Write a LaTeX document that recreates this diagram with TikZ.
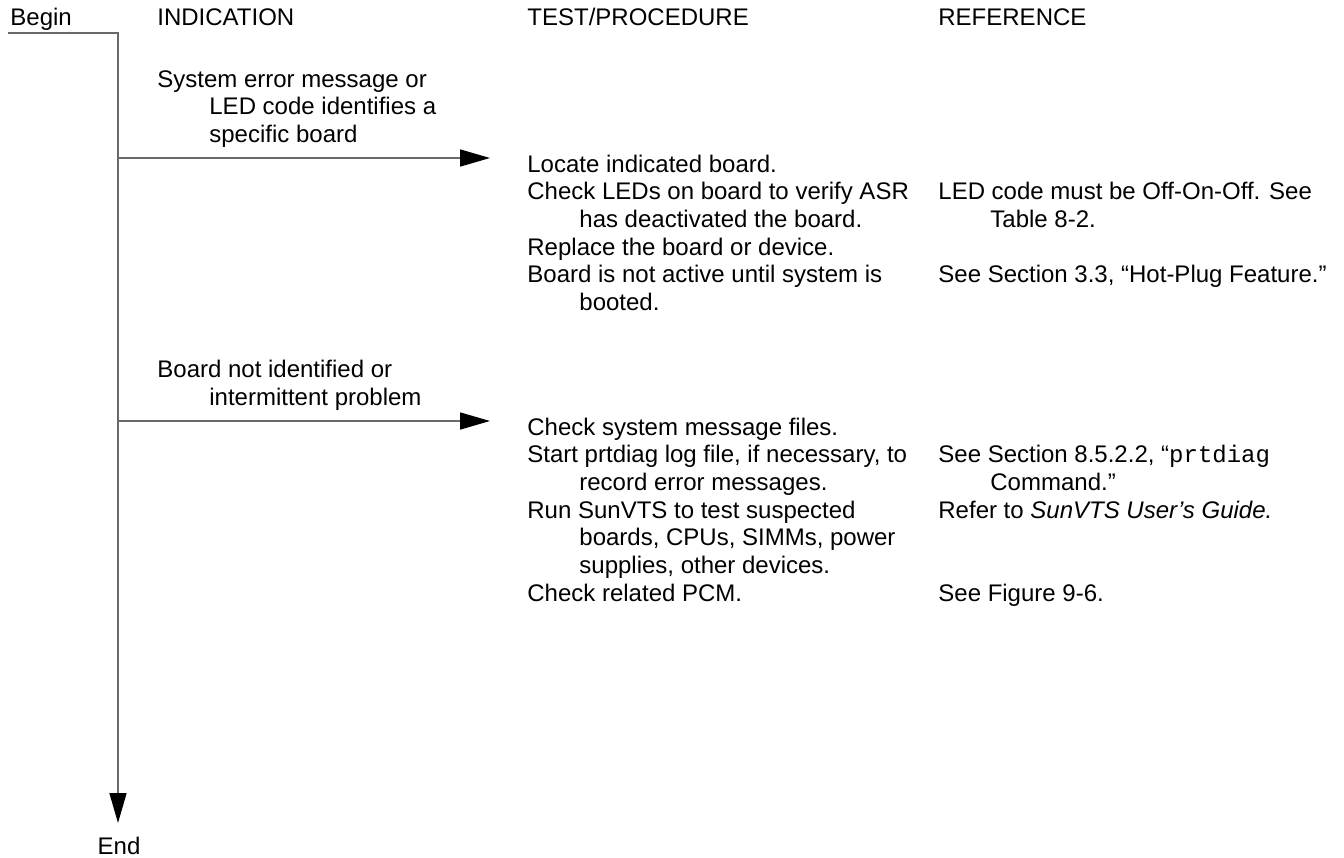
\documentclass[tikz,border=0pt]{standalone}
\usepackage{fontspec}
\setmainfont{Liberation Sans}
\setmonofont{Liberation Mono}
\usetikzlibrary{arrows.meta}

\definecolor{linegray}{RGB}{105,105,105}
\newcommand{\indnt}{\hspace*{26pt}}

\begin{document}
\begin{tikzpicture} [x=0.5pt, y=-0.5pt,
    flow/.style={draw=linegray, line width=0.8pt},
    arr/.style={-{Triangle[length=15pt, width=8.5pt, color=black]}},
    txt/.style={anchor=base west, inner sep=0pt, align=left,
                font=\fontsize{12}{13.85}\selectfont}]

\useasboundingbox (0,0) rectangle (1344,857);

% column heads
\node [txt] (begin) at (10,25) {Begin};
\node [txt] (hind) at (157,25) {INDICATION};
\node [txt] (htest) at (527,25) {TEST/PROCEDURE};
\node [txt] (href) at (938,25) {REFERENCE};

% indications (placed at the baseline of their last line)
\node [txt] (ind1) at (157,142.4)
    {System error message or\\\indnt LED code identifies a\\\indnt specific board};
\node [txt] (ind2) at (157,405.2)
    {Board not identified or\\\indnt intermittent problem};

% tests
\node [txt] (test1) at (527,310.5)
    {Locate indicated board.\\
     Check LEDs on board to verify ASR\\
     \indnt has deactivated the board.\\
     Replace the board or device.\\
     Board is not active until system is\\
     \indnt booted.};
\node [txt] (test2) at (527,601.2)
    {Check system message files.\\
     Start prtdiag log file, if necessary, to\\
     \indnt record error messages.\\
     Run SunVTS to test suspected\\
     \indnt boards, CPUs, SIMMs, power\\
     \indnt supplies, other devices.\\
     Check related PCM.};

% references
\node [txt] (ref1) at (938,227.4) {LED code must be Off-On-Off. See\\\indnt Table 8-2.};
\node [txt] (ref2) at (938,282.8) {See Section 3.3, “Hot-Plug Feature.”};
\node [txt] (ref3) at (938,490.4) {See Section 8.5.2.2, “\texttt{prtdiag}\\\indnt Command.”};
\node [txt] (ref4) at (938,518.1) {Refer to \textit{SunVTS User’s Guide.}};
\node [txt] (ref5) at (938,601.2) {See Figure 9-6.};

\node [txt, anchor=base] (end) at (119,854) {End};

% flow line
\coordinate (start) at (8,33);
\coordinate (corner) at (118,33);
\coordinate (fork1) at (118,158);
\coordinate (fork2) at (118,421);
\coordinate (tip1) at (490,158);
\coordinate (tip2) at (490,421);
\coordinate (bottom) at (118,823);

\draw [flow, arr] (start) -- (corner) -- (bottom);
\draw [flow, arr] (fork1) -- (tip1);
\draw [flow, arr] (fork2) -- (tip2);

\end{tikzpicture}
\end{document}
